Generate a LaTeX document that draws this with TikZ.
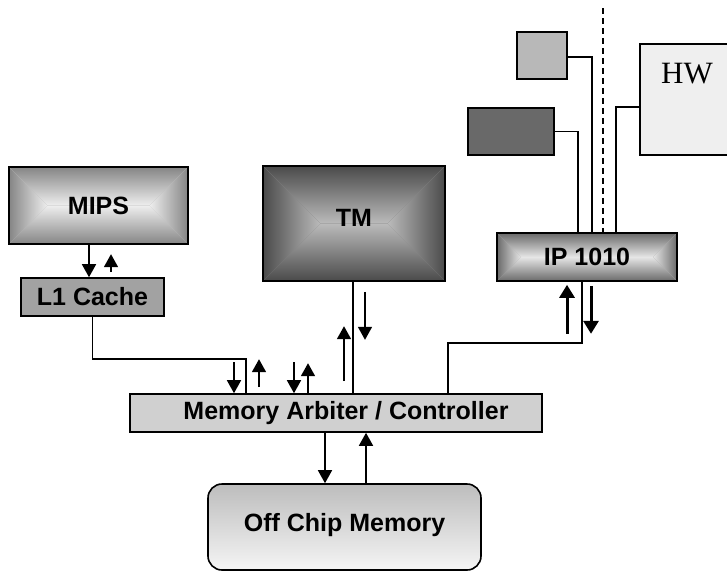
\documentclass[tikz,border=0pt]{standalone}
\usepackage{fontspec}
\setmainfont{Liberation Sans}
\newfontfamily\hwfont{Liberation Serif}
\usetikzlibrary{calc,arrows.meta}
\definecolor{mipsout}{HTML}{858585}
\definecolor{mipsin}{HTML}{EEEEEE}
\definecolor{tmout}{HTML}{4A4A4A}
\definecolor{tmin}{HTML}{BBBBBB}
\definecolor{ipout}{HTML}{6A6A6A}
\definecolor{ipin}{HTML}{E6E6E6}
\definecolor{cachegray}{HTML}{A2A2A2}
\definecolor{arbgray}{HTML}{D0D0D0}
\definecolor{darkblk}{HTML}{696969}
\definecolor{lightblk}{HTML}{B8B8B8}
\definecolor{hwgray}{HTML}{EFEFEF}
% pyramid shading: outer colour at the edges, inner colour on the middle ridge
\tikzset{pyr/.style 2 args={fill=#1!45!#2,path picture={
  \path let \p1=(path picture bounding box.south west), \p2=(path picture bounding box.north east),
    \n1={(\y2-\y1)/2} in coordinate (pyrl) at ({\x1+\n1},{\y1+\n1}) coordinate (pyrr) at ({\x2-\n1},{\y1+\n1});
  \fill[top color=#1,bottom color=#2] (path picture bounding box.north west) -- (path picture bounding box.north east) -- (pyrr) -- (pyrl) -- cycle;
  \fill[top color=#2,bottom color=#1] (path picture bounding box.south west) -- (path picture bounding box.south east) -- (pyrr) -- (pyrl) -- cycle;
  \fill[left color=#1,right color=#2] (path picture bounding box.south west) -- (path picture bounding box.north west) -- (pyrl) -- cycle;
  \fill[left color=#2,right color=#1] (path picture bounding box.south east) -- (path picture bounding box.north east) -- (pyrr) -- cycle;
}}}

\begin{document}
\begin{tikzpicture}[x=1pt,y=-1pt,
    blk/.style={draw=black,line width=1.6pt,rectangle,inner sep=2pt,font=\bfseries\fontsize{25}{27}\selectfont},
    wire/.style={line width=1.4pt},
    arr/.style={line width=1.6pt,-{Triangle[width=14pt,length=13pt]}},
    fatarr/.style={line width=3pt,-{Triangle[width=15pt,length=13pt]}}]
  \useasboundingbox (0,0) rectangle (727,571);
  % Processing blocks
  \node[blk,minimum width=179pt,minimum height=77pt,pyr={mipsout}{mipsin}] (mips) at (98.5,205.5) {MIPS};
  \node[blk,minimum width=143pt,minimum height=38pt,fill=cachegray] (l1) at (92.5,297) {L1 Cache};
  \node[blk,minimum width=182pt,minimum height=115pt,pyr={tmout}{tmin},text depth=12pt] (tm) at (354,223.5) {TM};
  \node[blk,minimum width=180pt,minimum height=48pt,pyr={ipout}{ipin}] (ip) at (587,257) {IP 1010};
  % Memory side
  \node[blk,minimum width=412pt,minimum height=38pt,fill=arbgray] (arb) at (336,413) {\hspace*{20pt}Memory Arbiter / Controller};
  \node[blk,minimum width=273pt,minimum height=86pt,rounded corners=14pt,top color=gray!52,bottom color=white!96!black,text depth=10pt] (mem) at (344.5,527) {Off Chip Memory};
  % Blocks on the IP side
  \node[blk,minimum width=50pt,minimum height=47pt,fill=lightblk] (lbox) at (542,55.5) {};
  \node[blk,minimum width=86pt,minimum height=47pt,fill=darkblk] (dbox) at (511,131.5) {};
  \node[blk,minimum width=130pt,minimum height=111pt,fill=hwgray] (hw) at (705,99.5) {};
  \node[font=\hwfont\fontsize{31}{31}\selectfont] (hwtxt) at (687,74) {HW};
  \coordinate (cut) at (603,8);
  \coordinate (l1bend) at (246,359);
  \coordinate (ipbend) at (448,343);

  % Wires
  \draw[wire] (l1.south) |- (l1bend) -- (l1bend |- arb.north);
  \draw[wire] ([xshift=-1pt]tm.south) -- ([xshift=-1pt]tm.south |- arb.north);
  \draw[wire] (ipbend |- arb.north) -- (ipbend) -| ([xshift=-5pt]ip.south);
  \draw[wire] (dbox.east) -| ([xshift=-9pt]ip.north);
  \draw[wire] ([yshift=-1.5pt]lbox.east) -| ([xshift=5pt]ip.north);
  \draw[wire] ([yshift=-7.5pt]hw.west) -| ([xshift=29pt]ip.north);
  \draw[line width=1.4pt,dash pattern=on 6pt off 4pt] (cut) -- (cut |- ip.north);

  % Data direction
  \draw[arr] ([xshift=-9.5pt]mips.south) -- ([xshift=-9.5pt]mips.south |- l1.north);
  \draw[arr] ([xshift=18.5pt,yshift=5pt]l1.north) -- ++(0,-18);
  \draw[arr] ([xshift=-102pt,yshift=31pt]arb.north) -- ([xshift=-102pt]arb.north);
  \draw[arr] ([xshift=-77pt,yshift=6pt]arb.north) -- ++(0,-28);
  \draw[arr] ([xshift=-42pt,yshift=31pt]arb.north) -- ([xshift=-42pt]arb.north);
  \draw[arr] ([xshift=-28pt]arb.north) -- ++(0,-30);
  \draw[arr] ([xshift=8pt,yshift=12pt]arb.north) -- ++(0,-55);
  \draw[arr] ([xshift=11pt,yshift=-10pt]tm.south) -- ++(0,48);
  \draw[arr] ([xshift=-11pt]arb.south) -- ([xshift=-11pt]arb.south |- mem.north);
  \draw[arr] ([xshift=30pt]arb.south |- mem.north) -- ([xshift=30pt]arb.south);
  \draw[fatarr] ([xshift=-20pt,yshift=-52pt]ip.south) -- ++(0,-49);
  \draw[fatarr] ([xshift=4pt,yshift=-4pt]ip.south) -- ++(0,48);
\end{tikzpicture}
\end{document}
